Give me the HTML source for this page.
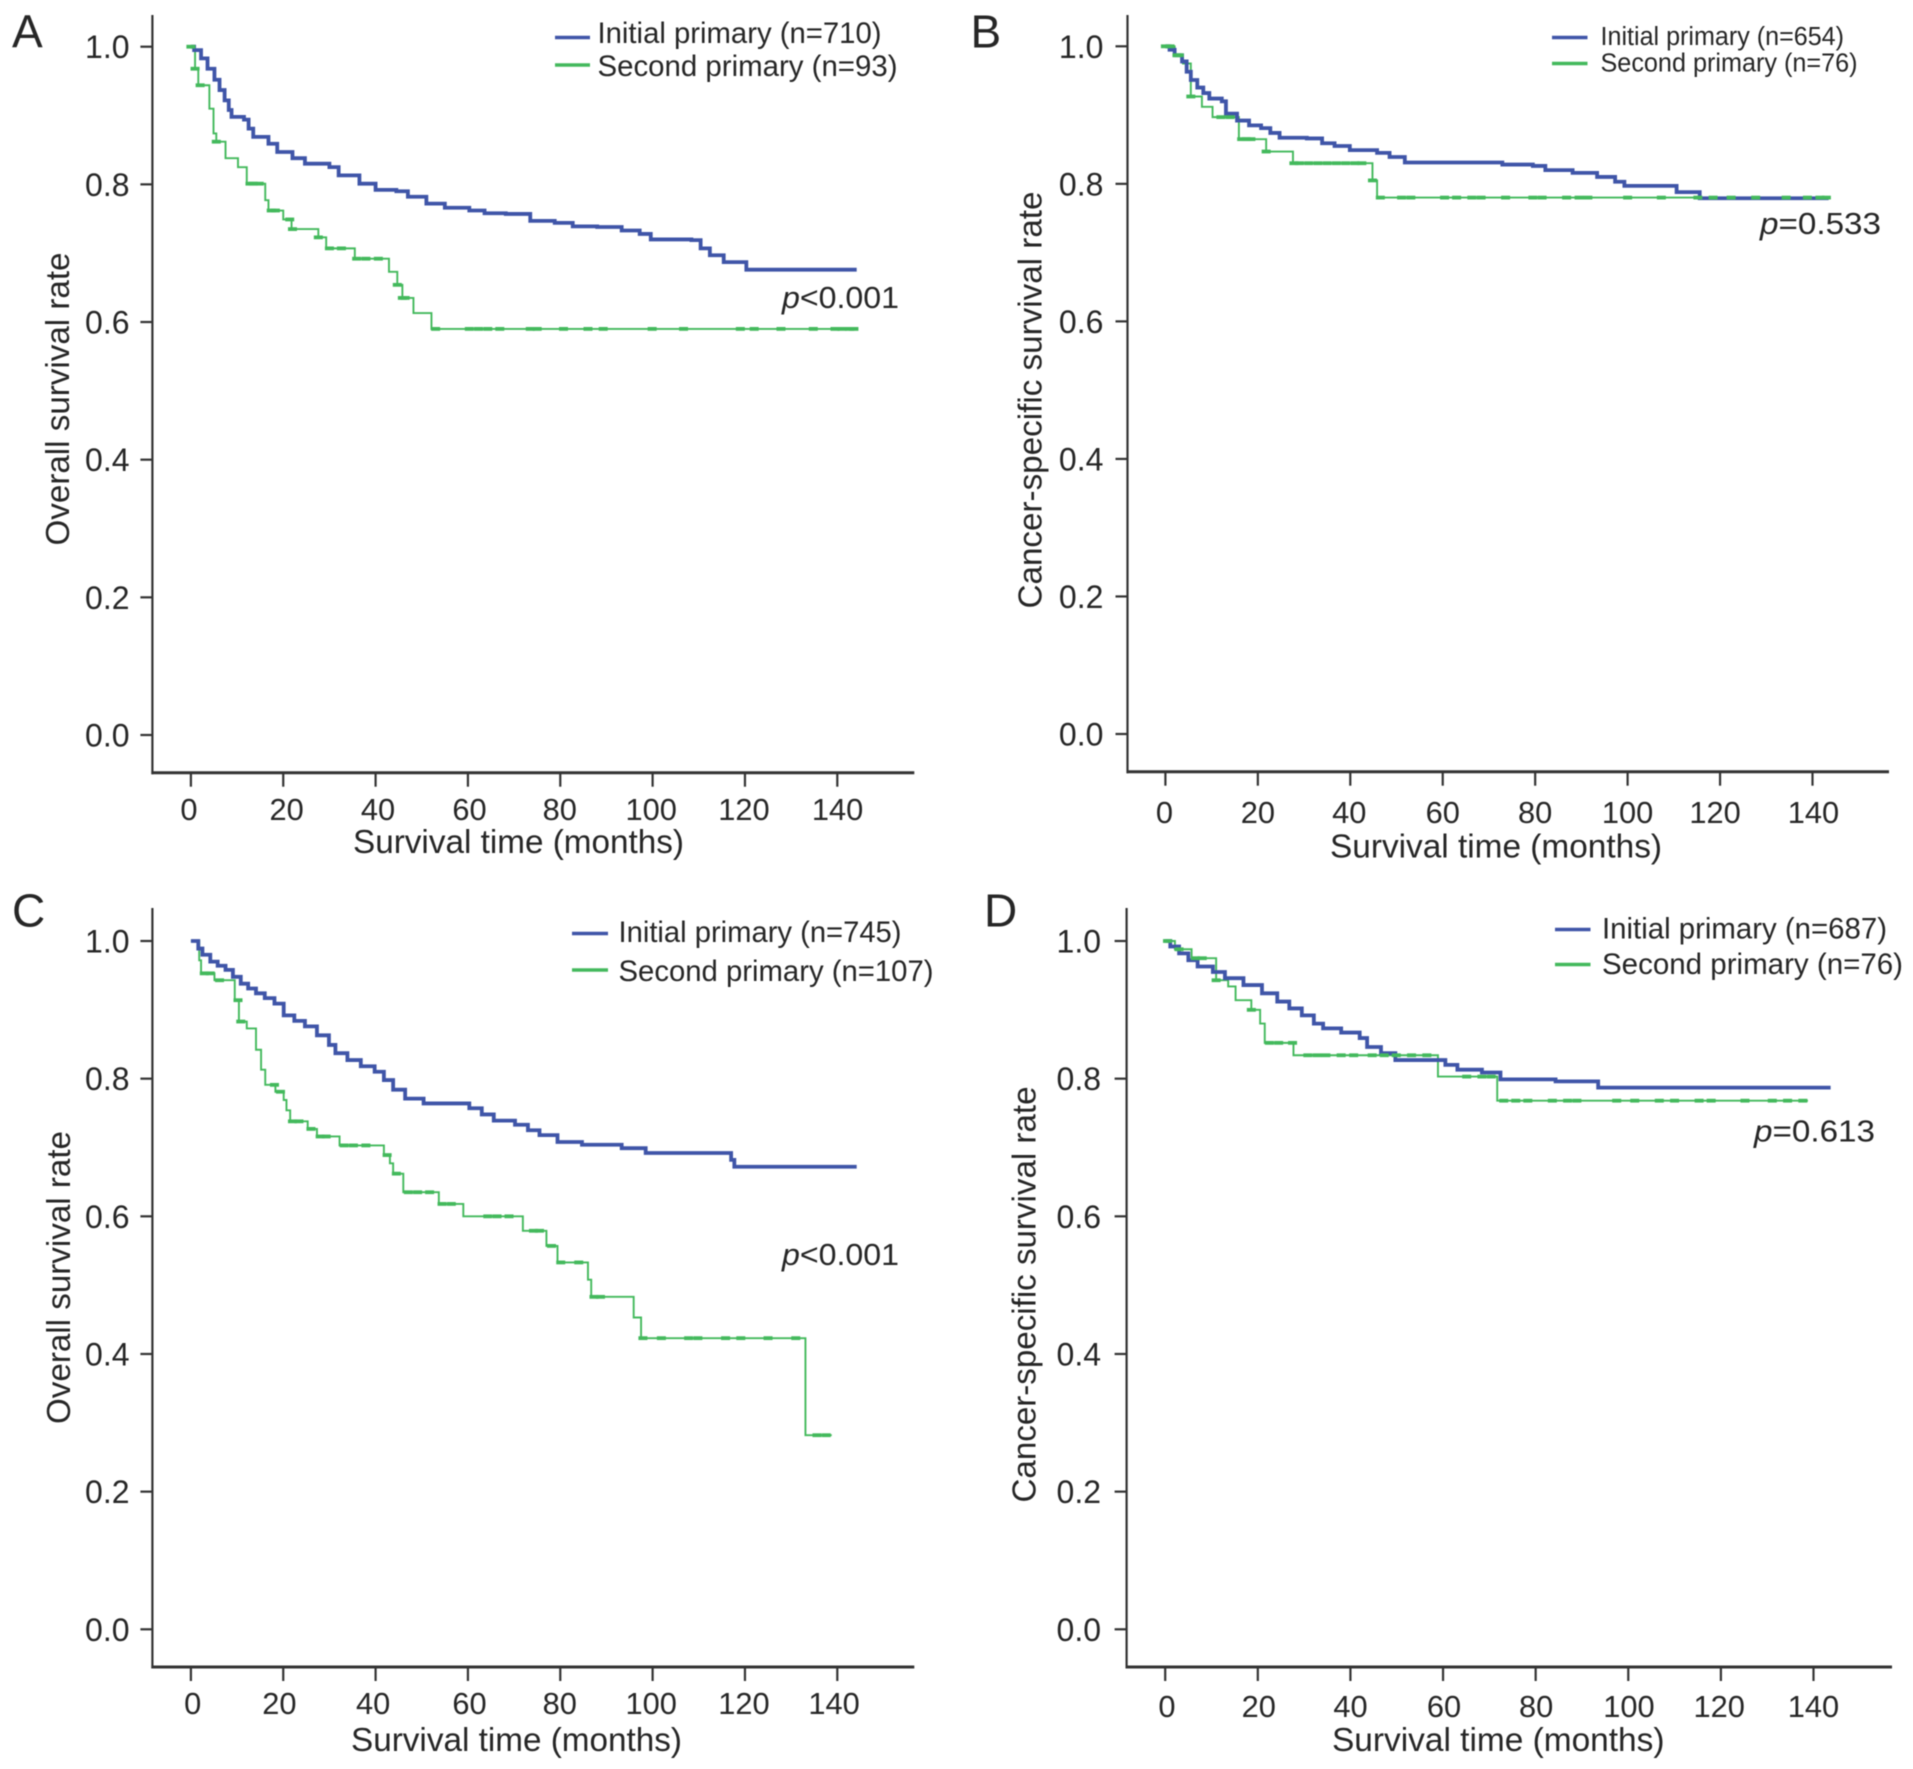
<!DOCTYPE html>
<html lang="en">
<head>
<meta charset="utf-8">
<title>Kaplan-Meier survival curves: initial versus second primary</title>
<style>
  html, body { margin: 0; padding: 0; background: #fff; }
  body { width: 1913px; height: 1769px; overflow: hidden; }
  #figure { display: block; filter: blur(0.6px); }
  text { font-family: "Liberation Sans", Arial, sans-serif; fill: #262626; }
</style>
</head>
<body>
<svg id="figure" xmlns="http://www.w3.org/2000/svg" width="1913" height="1769" viewBox="0 0 1913 1769">
  <rect x="0" y="0" width="1913" height="1769" fill="#ffffff"/>

  <!-- Panel A -->
  <g id="panel-a">
    <text x="12" y="47.5" font-size="46">A</text>
    <text transform="translate(69,399) rotate(-90)" text-anchor="middle" font-size="33" textLength="293" lengthAdjust="spacingAndGlyphs">Overall survival rate</text>
    <text x="353" y="853" font-size="33" textLength="331" lengthAdjust="spacingAndGlyphs">Survival time (months)</text>
    <line x1="555" y1="37.5" x2="590" y2="37.5" stroke="#3f55a8" stroke-width="3.4"/>
    <line x1="555" y1="65" x2="590" y2="65" stroke="#43b95c" stroke-width="3.4"/>
    <text x="597.5" y="43" font-size="29.5" textLength="284" lengthAdjust="spacingAndGlyphs">Initial primary (n=710)</text>
    <text x="597.5" y="76" font-size="29.5" textLength="300" lengthAdjust="spacingAndGlyphs">Second primary (n=93)</text>
    <text x="782" y="308" font-size="31" textLength="117" lengthAdjust="spacingAndGlyphs"><tspan font-style="italic">p</tspan>&lt;0.001</text>
  </g>

  <!-- Panel B -->
  <g id="panel-b">
    <text x="970.5" y="47.5" font-size="46">B</text>
    <text transform="translate(1041.5,400) rotate(-90)" text-anchor="middle" font-size="33" textLength="417" lengthAdjust="spacingAndGlyphs">Cancer-specific survival rate</text>
    <text x="1330" y="857.5" font-size="33" textLength="332" lengthAdjust="spacingAndGlyphs">Survival time (months)</text>
    <line x1="1552" y1="37.5" x2="1587.5" y2="37.5" stroke="#3f55a8" stroke-width="3.4"/>
    <line x1="1552" y1="63.5" x2="1587.5" y2="63.5" stroke="#43b95c" stroke-width="3.4"/>
    <text x="1600.5" y="45" font-size="25.5" textLength="243.5" lengthAdjust="spacingAndGlyphs">Initial primary (n=654)</text>
    <text x="1600.5" y="71.5" font-size="25.5" textLength="257" lengthAdjust="spacingAndGlyphs">Second primary (n=76)</text>
    <text x="1760" y="234" font-size="31" textLength="121" lengthAdjust="spacingAndGlyphs"><tspan font-style="italic">p</tspan>=0.533</text>
  </g>

  <!-- Panel C -->
  <g id="panel-c">
    <text x="12" y="926.5" font-size="46">C</text>
    <text transform="translate(70,1277.5) rotate(-90)" text-anchor="middle" font-size="33" textLength="293" lengthAdjust="spacingAndGlyphs">Overall survival rate</text>
    <text x="351" y="1751" font-size="33" textLength="331" lengthAdjust="spacingAndGlyphs">Survival time (months)</text>
    <line x1="572" y1="933.5" x2="608" y2="933.5" stroke="#3f55a8" stroke-width="3.4"/>
    <line x1="572" y1="970" x2="608" y2="970" stroke="#43b95c" stroke-width="3.4"/>
    <text x="618.5" y="942" font-size="29.5" textLength="283" lengthAdjust="spacingAndGlyphs">Initial primary (n=745)</text>
    <text x="618.5" y="981" font-size="29.5" textLength="315" lengthAdjust="spacingAndGlyphs">Second primary (n=107)</text>
    <text x="782" y="1265" font-size="31" textLength="117" lengthAdjust="spacingAndGlyphs"><tspan font-style="italic">p</tspan>&lt;0.001</text>
  </g>

  <!-- Panel D -->
  <g id="panel-d">
    <text x="984" y="926.5" font-size="46">D</text>
    <text transform="translate(1035.5,1294.5) rotate(-90)" text-anchor="middle" font-size="33" textLength="416" lengthAdjust="spacingAndGlyphs">Cancer-specific survival rate</text>
    <text x="1332" y="1751" font-size="33" textLength="332.5" lengthAdjust="spacingAndGlyphs">Survival time (months)</text>
    <line x1="1555" y1="929.5" x2="1590.5" y2="929.5" stroke="#3f55a8" stroke-width="3.4"/>
    <line x1="1555" y1="964.5" x2="1590.5" y2="964.5" stroke="#43b95c" stroke-width="3.4"/>
    <text x="1602" y="938.5" font-size="29.5" textLength="285" lengthAdjust="spacingAndGlyphs">Initial primary (n=687)</text>
    <text x="1602" y="974" font-size="29.5" textLength="301" lengthAdjust="spacingAndGlyphs">Second primary (n=76)</text>
    <text x="1754" y="1141.5" font-size="31" textLength="121" lengthAdjust="spacingAndGlyphs"><tspan font-style="italic">p</tspan>=0.613</text>
  </g>
</svg>

<script>
// Shared axis values
const xTickValues = [0, 20, 40, 60, 80, 100, 120, 140];
const yTickValues = [0, 0.2, 0.4, 0.6, 0.8, 1];
const xTickLabels = ["0", "20", "40", "60", "80", "100", "120", "140"];
const yTickLabels = ["0.0", "0.2", "0.4", "0.6", "0.8", "1.0"];

// Panel A: overall survival
const aInitialMonths = [0,0.7,2.2,3.6,5.1,6.2,7.3,8.2,8.8,11.5,12.5,13.5,16.8,18.7,22,24.7,30,32,36.5,40,44.5,47,51,55,60.3,63.6,68.2,73.5,78.8,82.7,88,93.3,97.2,99.6,108.4,110.4,112.4,115.4,120.3,144.2];
const aInitialSurvival = [1,.995,.983,.968,.952,.937,.922,.908,.898,.894,.881,.869,.859,.847,.838,.83,.825,.813,.801,.792,.79,.782,.772,.766,.762,.758,.757,.747,.744,.739,.738,.733,.728,.72,.719,.707,.697,.687,.676,.676];
const aSecondMonths = [0,0.9,1.6,4,4.9,5.5,7.5,10.2,12.1,16.1,16.8,20,21.8,27.6,29.3,35.5,42.9,44.7,45.8,48.2,52.1,144.2];
const aSecondSurvival = [1,.968,.944,.91,.874,.862,.838,.825,.801,.777,.762,.749,.735,.723,.707,.692,.673,.654,.635,.613,.59,.59];
const aSecondCensored = [0,0.9,2,5.5,12.8,13.5,14.8,17.4,18.3,21.4,22,27.6,30,32.6,35.9,37.9,40.6,44.7,45.8,46.4,53,60.3,62.3,64.3,66.9,73.5,75,80.7,86,89.3,99.9,106.7,119,122,127.8,134.8,139.5,141,142.7,143.6];

// Panel B: cancer-specific survival
const bInitialMonths = [0,0.9,2,3.6,4.6,5.5,6.9,8.2,9.5,12.2,13.1,15.5,18.1,20.7,22.7,24.7,30.6,33.9,36.6,39.9,45.8,48.5,51.8,72.9,79.5,82.2,88.1,93.4,97.3,99.3,110.6,115.6,143.5];
const bInitialSurvival = [1,.995,.987,.978,.963,.951,.94,.932,.924,.92,.902,.892,.885,.881,.874,.867,.866,.859,.855,.849,.845,.839,.831,.828,.826,.82,.816,.81,.803,.797,.788,.779,.779];
const bSecondMonths = [0,2,3.8,5.5,7.9,10.2,15.9,21.8,27.6,44.8,45.8,143.5];
const bSecondSurvival = [1,.987,.975,.927,.912,.897,.865,.847,.83,.805,.78,.78];
const bSecondCensored = [0,1,2.5,3,5.5,12,14,16.5,17.5,18.5,21.8,27.8,29,31,33,35,37,39,41,42.5,44.8,46.5,51.1,53.1,60.4,63,66.3,68.3,73.6,79.5,81.5,86.8,89.5,91.4,100,107.3,115.2,118.5,122.4,127.7,134.3,138.9,141.6,143];

// Panel C: overall survival
const cInitialMonths = [0,1.6,2.5,4.2,5.8,7.5,9.1,10.8,12.4,14.1,16,18.1,20.1,22.4,24.7,27.3,29.9,31.3,33.9,36.8,39.8,41.8,43.8,46.4,50.4,60.3,63,65.6,70.2,73,75.5,79.4,84.7,93.3,98.5,117,117.7,144.2];
const cInitialSurvival = [1,.989,.98,.97,.964,.958,.948,.938,.931,.924,.917,.909,.892,.884,.876,.863,.849,.837,.827,.818,.81,.798,.784,.771,.764,.757,.748,.739,.733,.725,.718,.708,.704,.699,.692,.682,.672,.672];
const cSecondMonths = [0,1.8,2.2,5.1,9.5,10.4,12.1,14.1,15.2,16.1,18.3,20.1,20.7,21.5,25.3,27.3,32.2,41.8,43.1,43.8,46,53.7,59,71.9,77,79.4,86,86.7,95.9,97.5,133.1,138.8];
const cSecondSurvival = [1,.972,.953,.943,.914,.883,.873,.842,.813,.791,.781,.769,.754,.738,.727,.716,.703,.689,.677,.662,.635,.618,.6,.579,.557,.533,.508,.483,.453,.423,.282,.282];
const cSecondCensored = [2.9,4.2,6.2,10.2,10.8,18.1,19.4,22,23.4,26,28,29.3,33.2,35.2,37.9,42.5,44.5,47.1,49.1,51.7,54.4,56.4,64.3,66.3,68.9,74.2,75.5,78.1,80.1,84,87.3,88.7,97.9,101.9,107.8,109.8,115.8,119.1,125,131,135.6,137.6];

// Panel D: cancer-specific survival
const dInitialMonths = [0,1.1,3,5,7,10.3,12.9,16.9,20.9,24.2,26.8,29.5,32.1,34.1,38,42,43.6,46.6,49.7,60.5,63.1,68.4,72.4,84.3,93.5,143.7];
const dInitialSurvival = [1,.992,.982,.972,.963,.955,.946,.936,.924,.912,.902,.892,.88,.873,.867,.859,.846,.837,.827,.82,.813,.809,.799,.796,.787,.787];
const dSecondMonths = [0,2.1,5.7,11,13.6,15.2,18.6,20.5,21.5,27.7,58.9,71.7,138.8];
const dSecondSurvival = [1,.988,.975,.943,.934,.914,.9,.88,.852,.834,.803,.768,.768];
const dSecondCensored = [0.5,3,6.5,8,11,18.6,22.5,24.5,27.5,30.8,32.8,34.7,38,40.7,44.7,47.3,49.9,53.2,56.5,65.1,68.4,70.4,73.1,75.7,78.3,83.6,86.9,88.9,97.5,101.4,106.7,110,115.3,117.9,125.2,131.1,134.4,137.7];

// Layout of each panel (scale anchors and pixel nudges, no data here)
const panels = [
  { id: "a", axisX: 152.4, axisY: 772.7, top: 15, right: 914.3, x0: 190.9, x140: 837.3, y1: 46.7, y0: 735,
    yLabelX: 129.5, xLabelY: 820, xNudge: [-1.9,3.4,2.4,1.6,-.5,-1.4,-1,.3],
    initialMonths: aInitialMonths, initialSurvival: aInitialSurvival,
    secondMonths: aSecondMonths, secondSurvival: aSecondSurvival, censored: aSecondCensored },
  { id: "b", axisX: 1127.5, axisY: 771.7, top: 15, right: 1889, x0: 1165.4, x140: 1812.5, y1: 46.3, y0: 734,
    yLabelX: 1103.4, xLabelY: 823, xNudge: [-1,0,-1,0,0,0,-5,1],
    initialMonths: bInitialMonths, initialSurvival: bInitialSurvival,
    secondMonths: bSecondMonths, secondSurvival: bSecondSurvival, censored: bSecondCensored },
  { id: "c", axisX: 152.4, axisY: 1667, top: 908, right: 914.3, x0: 190.9, x140: 837.3, y1: 941, y0: 1629.3,
    yLabelX: 129.5, xLabelY: 1714, xNudge: [1.8,-3.9,-2.4,1.6,-.5,-1.4,-1,-3.2],
    initialMonths: cInitialMonths, initialSurvival: cInitialSurvival,
    secondMonths: cSecondMonths, secondSurvival: cSecondSurvival, censored: cSecondCensored },
  { id: "d", axisX: 1126.6, axisY: 1667, top: 908, right: 1892, x0: 1165.2, x140: 1813.5, y1: 941, y0: 1629.3,
    yLabelX: 1101, xLabelY: 1717, xNudge: [1.8,.9,.1,1,.5,.7,-1.7,0],
    initialMonths: dInitialMonths, initialSurvival: dInitialSurvival,
    secondMonths: dSecondMonths, secondSurvival: dSecondSurvival, censored: dSecondCensored }
];

const SVG_NS = "http://www.w3.org/2000/svg";
const BLUE = "#3f55a8";
const GREEN = "#43b95c";
const AXIS = "#333333";

function svgEl(tag, attrs) {
  const el = document.createElementNS(SVG_NS, tag);
  Object.keys(attrs).forEach(function (k) { el.setAttribute(k, attrs[k]); });
  return el;
}

function stepPath(months, survival, xScale, yScale) {
  let d = "M" + xScale(months[0]).toFixed(2) + "," + yScale(survival[0]).toFixed(2);
  for (let i = 1; i < months.length; i++) {
    d += "H" + xScale(months[i]).toFixed(2) + "V" + yScale(survival[i]).toFixed(2);
  }
  return d;
}

function survivalAt(months, survival, t) {
  let s = survival[0];
  for (let i = 0; i < months.length; i++) {
    if (months[i] <= t) { s = survival[i]; } else { break; }
  }
  return s;
}

panels.forEach(function (p) {
  const root = document.getElementById("panel-" + p.id);
  const xScale = function (m) { return p.x0 + (p.x140 - p.x0) * m / 140; };
  const yScale = function (s) { return p.y0 + (p.y1 - p.y0) * s; };

  // Axes
  const yAxis = svgEl("line", { x1: p.axisX, y1: p.top, x2: p.axisX, y2: p.axisY + 1.5, stroke: AXIS, "stroke-width": 2.2 });
  
  
  root.appendChild(yAxis);

  const xAxis = svgEl("line", { x1: p.axisX - 1, y1: p.axisY, x2: p.right, y2: p.axisY, stroke: AXIS, "stroke-width": 3 });
  
  
  root.appendChild(xAxis);

  // Y ticks and labels
  yTickValues.forEach(function (v, i) {
    const y = yScale(v);
    const tick = svgEl("line", { x1: p.axisX - 12, y1: y, x2: p.axisX, y2: y, stroke: AXIS, "stroke-width": 2.2 });
    
    
    root.appendChild(tick);

    const label = svgEl("text", { x: p.yLabelX, y: y + 11.5, "text-anchor": "end", "font-size": 32 });
    
    
    label.textContent = yTickLabels[i];
    root.appendChild(label);
  });

  // X ticks and labels
  xTickValues.forEach(function (v, i) {
    const x = xScale(v);
    const tick = svgEl("line", { x1: x, y1: p.axisY, x2: x, y2: p.axisY + 14, stroke: AXIS, "stroke-width": 2.2 });
    
    
    root.appendChild(tick);

    const label = svgEl("text", { x: x + p.xNudge[i], y: p.xLabelY, "text-anchor": "middle", "font-size": 30.8 });
    
    
    label.textContent = xTickLabels[i];
    root.appendChild(label);
  });

  // Second primary curve (thin, underneath)
  const second = svgEl("path", {
    d: stepPath(p.secondMonths, p.secondSurvival, xScale, yScale),
    fill: "none", stroke: GREEN, "stroke-width": 1.9
  });
  
  
  root.appendChild(second);

  // Initial primary curve
  const initial = svgEl("path", {
    d: stepPath(p.initialMonths, p.initialSurvival, xScale, yScale),
    fill: "none", stroke: BLUE, "stroke-width": 3.8
  });
  
  
  root.appendChild(initial);

  // Censor marks on second primary curve
  p.censored.forEach(function (m) {
    const s = survivalAt(p.secondMonths, p.secondSurvival, m);
    const mark = svgEl("rect", {
      x: xScale(m) - 4.5, y: yScale(s) - 1.9, width: 9, height: 3.8, fill: GREEN
    });
    
    
    root.appendChild(mark);
  });
});
</script>
</body>
</html>
